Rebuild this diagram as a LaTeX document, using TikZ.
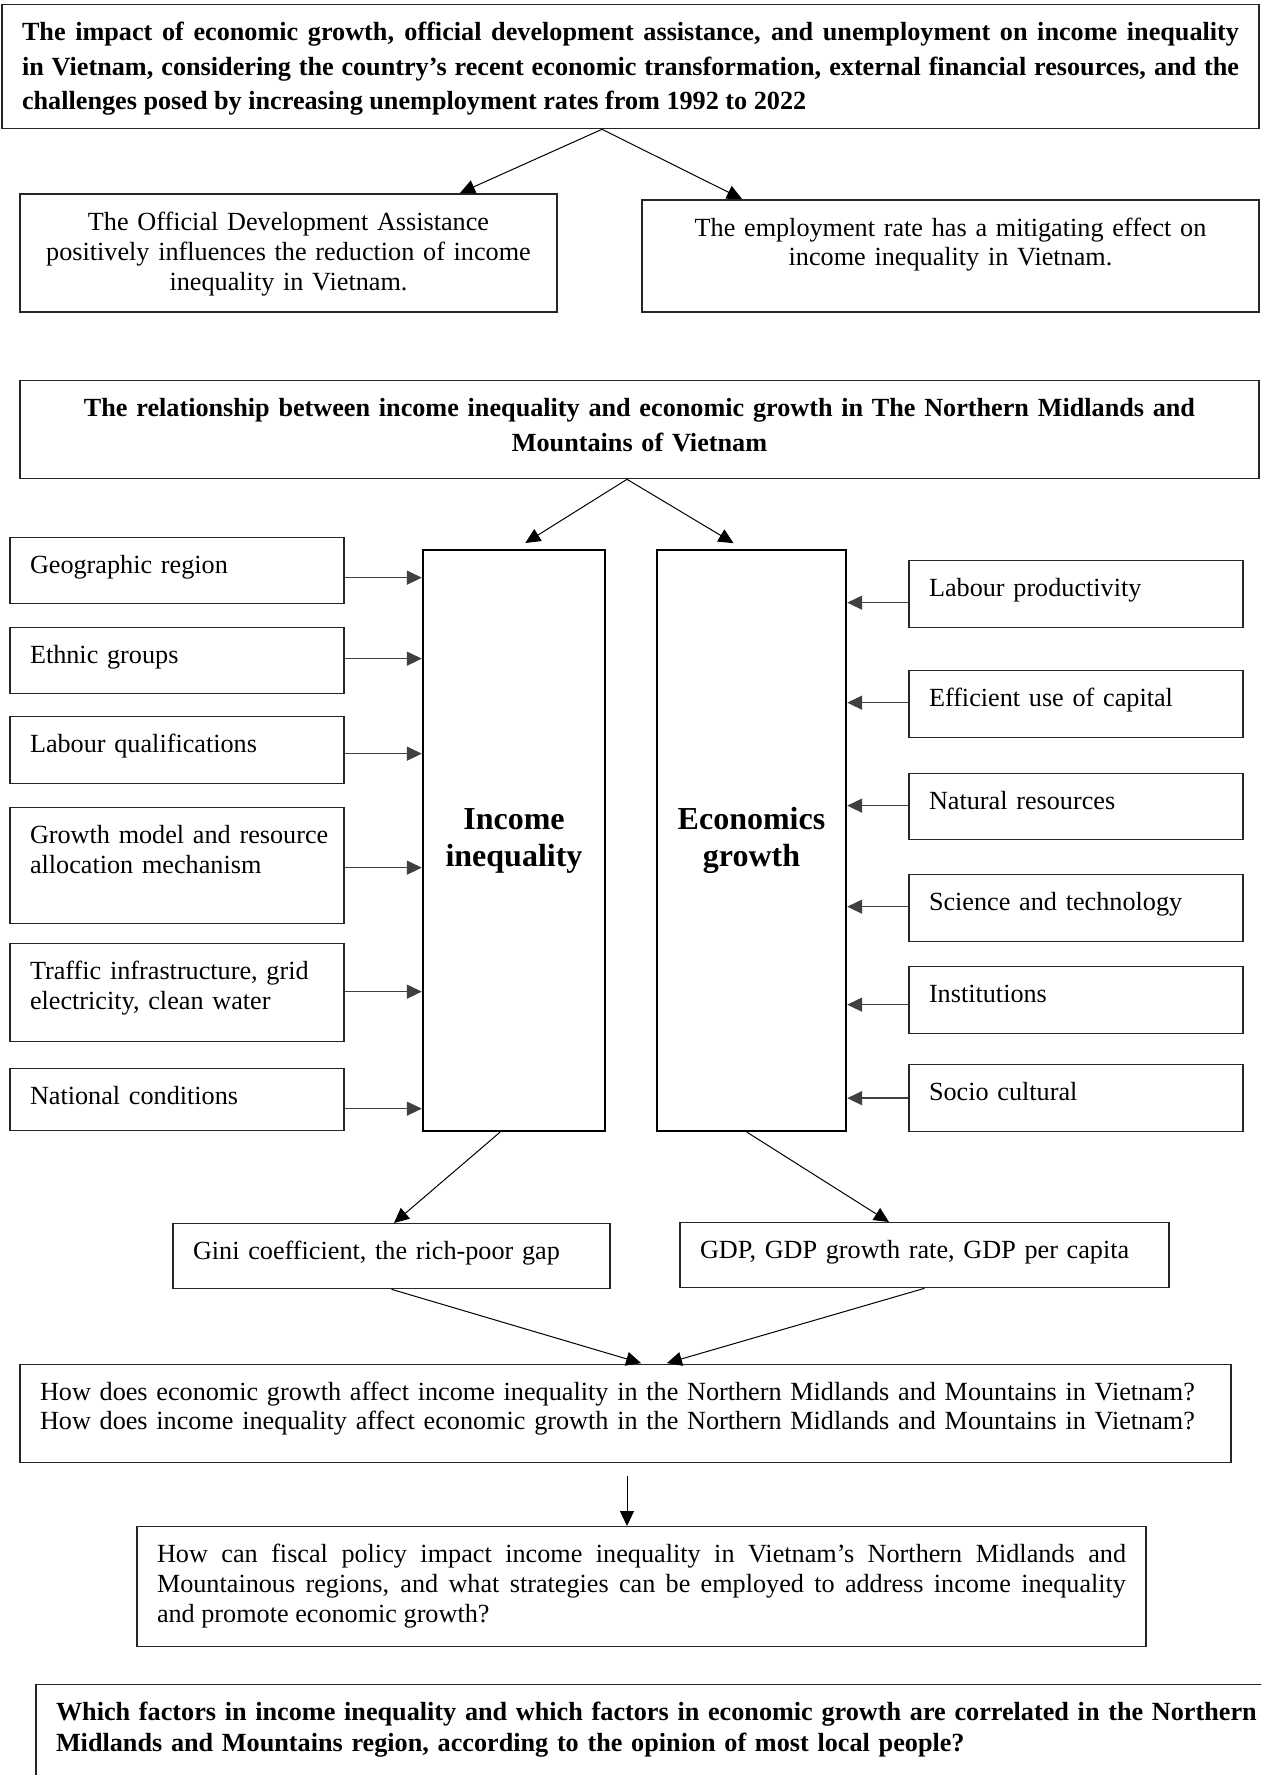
\documentclass[tikz,border=0pt]{standalone}
\usepackage{fontspec}
\setmainfont{Liberation Serif}
\usetikzlibrary{arrows.meta,positioning}
\tikzset{
  plan-box/.style={draw=black!85, line width=1.3pt, anchor=north, inner xsep=20pt, inner ysep=16pt,
    text height=20pt, font=\fontsize{26.2}{30.1}\selectfont,
    execute at begin node={\hyphenpenalty=10000\exhyphenpenalty=10000\relax}},
  plan-head/.style={plan-box, font=\bfseries\fontsize{26.2}{34.5}\selectfont},
  plan-key/.style={draw=black, line width=2.4pt, align=center, font=\bfseries\fontsize{32}{37}\selectfont},
  plan-arrow/.style={-{Triangle[length=15pt,width=14pt]}, line width=1pt},
  plan-feed/.style={-{Triangle[length=15pt,width=14pt]}, line width=1.6pt, draw=black!75}
}

\begin{document}
\begin{tikzpicture}[x=1pt, y=-1pt]
  \path[use as bounding box, clip] (0,0) rectangle (1261,1775);

  % Topic
  \node[plan-head, align=justify, text width=1217pt, minimum width=1257pt, text depth=72pt] (topic) at (630.5,4)
    {The impact of economic growth, official development assistance, and unemployment on income inequality\linebreak
     in Vietnam, considering the country's recent economic transformation, external financial resources, and the\linebreak
     challenges posed by increasing unemployment rates from 1992 to 2022};

  % Hypotheses
  \node[plan-box, line width=2.2pt, align=center, text width=497pt, text depth=66pt] (oda) at (288.5,193)
    {The Official Development Assistance\\positively influences the reduction of income\\inequality in Vietnam.};
  \node[plan-box, line width=2.2pt, align=center, text width=577pt, text depth=60pt,
    font=\fontsize{26.2}{29}\selectfont] (employ) at (950.5,199)
    {The employment rate has a mitigating effect on\\income inequality in Vietnam.};
  \draw[plan-arrow] ([xshift=-28.5pt]topic.south) -- ([xshift=171.5pt]oda.north);
  \draw[plan-arrow] ([xshift=-28.5pt]topic.south) -- ([xshift=-208.5pt]employ.north);

  % Relationship
  \node[plan-head, align=center, text width=1199pt, text depth=46pt] (rel) at (639.5,380)
    {The relationship between income inequality and economic growth in The Northern Midlands and\\Mountains of Vietnam};

  % Core blocks
  \node[plan-key, minimum width=182pt, minimum height=581pt] (income) at (514,840.5) {Income\\inequality};
  \node[plan-key, minimum width=189pt, minimum height=581pt] (econ) at (751.5,840.5) {Economics\\growth};
  \draw[plan-arrow, shorten >=11pt] ([xshift=-12.5pt]rel.south) -- ([xshift=2pt]income.north);
  \draw[plan-arrow, shorten >=11pt] ([xshift=-12.5pt]rel.south) -- ([xshift=-8.5pt]econ.north);

  % Income inequality factors
  \foreach \name/\top/\h/\dy/\title [evaluate=\h as \dep using \h-52] in {
      geo/537/66/-7/Geographic region,
      eth/627/66/2/Ethnic groups,
      labq/716/67/-3.5/Labour qualifications,
      grow/807/116/-2/{\mbox{Growth model and resource}\\allocation mechanism},
      traf/943/98/1/{Traffic infrastructure, grid\\electricity, clean water},
      natc/1068/62/-9/National conditions} {
    \node[plan-box, align=left, text width=294pt, text depth=\dep pt] (\name) at (177,\top) {\title};
    \draw[plan-feed] ([yshift=\dy pt]\name.east) -- ([yshift=\dy pt]\name.east -| income.west);
  }

  % Economic growth factors
  \foreach \name/\top/\h/\dy/\title [evaluate=\h as \dep using \h-52] in {
      lprod/560/67/-8.5/Labour productivity,
      effcap/670/67/1.5/Efficient use of capital,
      natres/773/66/1/Natural resources,
      scitech/874/67/1.5/Science and technology,
      inst/966/67/-4.5/Institutions,
      socio/1064/67/0/Socio cultural} {
    \node[plan-box, align=left, text width=294pt, text depth=\dep pt] (\name) at (1076,\top) {\title};
    \draw[plan-feed] ([yshift=\dy pt]\name.west) -- ([yshift=\dy pt]\name.west -| econ.east);
  }

  % Measures
  \node[plan-box, align=left, text width=397pt, text depth=13pt] (gini) at (391.5,1223) {Gini coefficient, the rich-poor gap};
  \node[plan-box, align=left, text width=449pt, text depth=13pt] (gdp) at (924.5,1222) {GDP, GDP growth rate, GDP per capita};
  \draw[plan-arrow] ([xshift=-14pt]income.south) -- ([xshift=2.5pt]gini.north);
  \draw[plan-arrow] ([xshift=-4.5pt]econ.south) -- ([xshift=-35.5pt]gdp.north);

  % Research questions
  \node[plan-box, align=left, text width=1171pt, text depth=46pt, font=\fontsize{26.2}{29}\selectfont] (quest) at (625.5,1364)
    {How does economic growth affect income inequality in the Northern Midlands and Mountains in Vietnam?\\
     How does income inequality affect economic growth in the Northern Midlands and Mountains in Vietnam?};
  \draw[plan-arrow, shorten >=3pt] (gini.south) -- ([xshift=18.5pt]quest.north);
  \draw[plan-arrow, shorten >=3pt] (gdp.south) -- ([xshift=38.5pt]quest.north);

  \node[plan-box, align=justify, text width=969pt, text depth=68pt] (fiscal) at (641.5,1526)
    {How can fiscal policy impact income inequality in Vietnam's Northern Midlands and\linebreak
     Mountainous regions, and what strategies can be employed to address income inequality\linebreak
     and promote economic growth?};
  \draw[plan-arrow, shorten <=13pt] ([xshift=1.5pt]quest.south) -- ([xshift=1.5pt]quest.south |- fiscal.north);

  \node[plan-head, align=left, text width=1215pt, text depth=64pt, font=\bfseries\fontsize{26.2}{31}\selectfont] (which) at (663.5,1684)
    {Which factors in income inequality and which factors in economic growth are correlated in the Northern\\
     Midlands and Mountains region, according to the opinion of most local people?};
\end{tikzpicture}
\end{document}
